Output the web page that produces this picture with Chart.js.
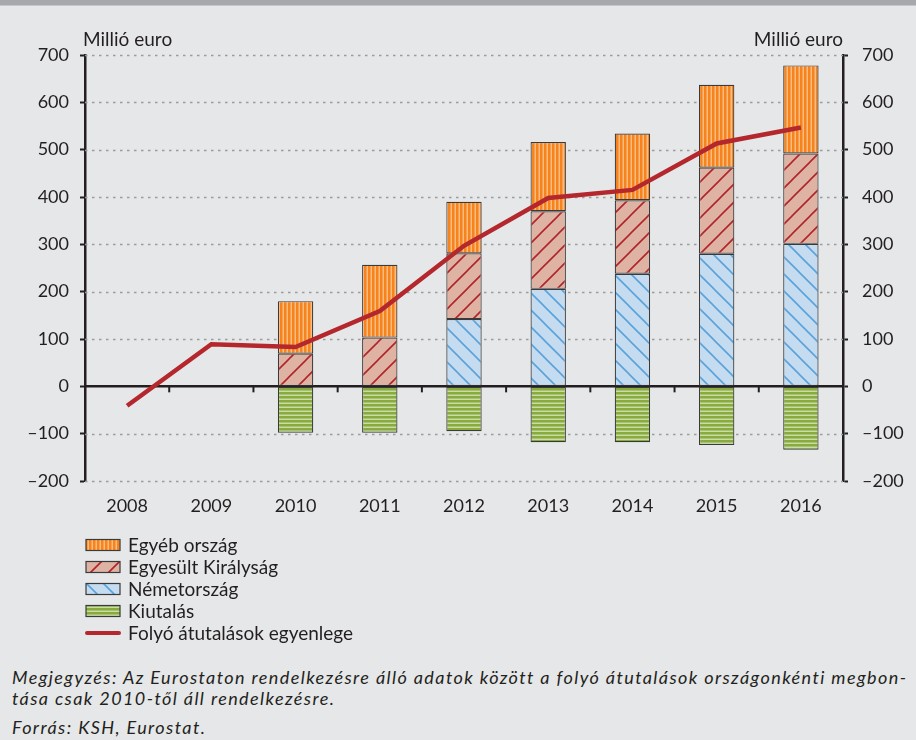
<!DOCTYPE html>
<html>
<head>
<meta charset="utf-8">
<script src="https://cdn.jsdelivr.net/npm/chart.js@4"></script>
<style>
  body { margin: 0; width: 916px; height: 740px; background: #e6e7e8; overflow: hidden; position: relative; font-family: Lato, sans-serif; color: #231f20; }
  #topbar { position: absolute; left: 0; top: 0; width: 916px; height: 5px; background: #a7a8ab; border-bottom: 1px solid #c6c7c9; }
  #wrap { position: absolute; left: 0; top: 0; width: 916px; height: 522px; }
  .unit { position: absolute; top: 28px; font-size: 19px; line-height: 22px; }
  #legend { position: absolute; left: 85px; top: 534px; font-size: 19px; }
  .row { height: 22px; line-height: 22px; display: flex; align-items: center; }
  .row canvas { margin-right: 7px; }
  .note { position: absolute; left: 12px; font-style: italic; font-size: 18px; line-height: 20px; letter-spacing: 1.4px; white-space: nowrap; color: #231f20; }
</style>
</head>
<body>
<div id="topbar"></div>
<div id="wrap"><canvas id="chart"></canvas></div>
<div class="unit" style="left:83px">Millió euro</div>
<div class="unit" style="right:73px">Millió euro</div>
<div id="legend"></div>
<div class="note" style="top:667px">Megjegyzés: Az Eurostaton rendelkezésre álló adatok között a folyó átutalások országonkénti megbon-</div>
<div class="note" style="top:688px">tása csak 2010-től áll rendelkezésre.</div>
<div class="note" style="top:717px">Forrás: KSH, Eurostat.</div>
<script>
// adatok (millió euro)
const years = ['2008', '2009', '2010', '2011', '2012', '2013', '2014', '2015', '2016'];
const nemetorszag = [null, null, 0, 0, 142, 206, 238, 280, 301];
const egyesultKiralysag = [null, null, 69, 103, 139, 164, 155, 182, 191];
const egyebOrszag = [null, null, 111, 154, 109, 146, 141, 175, 186];
const kiutalas = [null, null, -98, -98, -95, -118, -118, -124, -134];
const folyoEgyenleg = [-41, 89, 83, 159, 297, 398, 415, 513, 547];
const Y_MIN = -200, Y_MAX = 700, Y_STEP = 100;

const INK = '#231f20';
const LINE_RED = '#b3272d';
const BAR_EDGE = '#3a3a3a';

function makePattern(w, h, draw) {
  const c = document.createElement('canvas');
  c.width = w; c.height = h;
  const g = c.getContext('2d');
  draw(g, w, h);
  return g.createPattern(c, 'repeat');
}

const orangeFill = makePattern(4, 4, (g, w, h) => {
  g.fillStyle = '#fdbb7e'; g.fillRect(0, 0, w, h);
  g.fillStyle = '#f5841f'; g.fillRect(0, 0, 2.5, h);
});
const greenFill = makePattern(4, 4, (g, w, h) => {
  g.fillStyle = '#c9dca3'; g.fillRect(0, 0, w, h);
  g.fillStyle = '#88aa3f'; g.fillRect(0, 0, w, 2.5);
});
const pinkFill = makePattern(18, 18, (g, w, h) => {
  g.fillStyle = '#dfb3a3'; g.fillRect(0, 0, w, h);
  g.strokeStyle = '#b0252b'; g.lineWidth = 1.6;
  g.beginPath();
  g.moveTo(0, h); g.lineTo(w, 0);
  g.moveTo(-2, 2); g.lineTo(2, -2);
  g.moveTo(w - 2, h + 2); g.lineTo(w + 2, h - 2);
  g.stroke();
});
const blueFill = makePattern(17, 17, (g, w, h) => {
  g.fillStyle = '#c5dbf0'; g.fillRect(0, 0, w, h);
  g.strokeStyle = '#5aa3da'; g.lineWidth = 1.6;
  g.beginPath();
  g.moveTo(0, 0); g.lineTo(w, h);
  g.moveTo(-2, h - 2); g.lineTo(2, h + 2);
  g.moveTo(w - 2, -2); g.lineTo(w + 2, 2);
  g.stroke();
});

function fmt(v) {
  return v < 0 ? '\u2013' + Math.abs(v) : String(v);
}

// pontozott rácsvonalak + nullvonal a kategória-jelölőkkel
const gridPlugin = {
  id: 'grid',
  beforeDatasetsDraw(chart) {
    const { ctx, chartArea: a, scales: { x, y } } = chart;
    ctx.save();
    ctx.strokeStyle = '#9b9b9b';
    ctx.lineWidth = 1.5;
    ctx.setLineDash([2.5, 4.5]);
    y.ticks.forEach(t => {
      if (t.value === 0) return;
      const py = Math.round(y.getPixelForValue(t.value)) + 0.5;
      ctx.beginPath(); ctx.moveTo(a.left, py); ctx.lineTo(a.right, py); ctx.stroke();
    });
    ctx.setLineDash([]);
    const y0 = y.getPixelForValue(0);
    ctx.strokeStyle = INK;
    ctx.lineWidth = 2.5;
    ctx.beginPath(); ctx.moveTo(a.left, y0); ctx.lineTo(a.right, y0); ctx.stroke();
    const half = (x.getPixelForValue(1) - x.getPixelForValue(0)) / 2;
    ctx.lineWidth = 2;
    for (let i = 1; i < years.length; i++) {
      const px = x.getPixelForValue(i) - half;
      ctx.beginPath(); ctx.moveTo(px, y0); ctx.lineTo(px, y0 + 6); ctx.stroke();
    }
    ctx.restore();
  }
};

const barBase = { type: 'bar', stack: 'a', order: 1, borderColor: BAR_EDGE, borderWidth: 1.2, borderSkipped: false, categoryPercentage: 1, barPercentage: 0.42 };

const yAxis = (pos, width, pad) => ({
  position: pos,
  display: true,
  stacked: true,
  min: Y_MIN, max: Y_MAX,
  ticks: { stepSize: Y_STEP, padding: pad, color: INK, callback: fmt },
  grid: { drawOnChartArea: false, tickLength: 5, tickWidth: 2, tickColor: INK },
  border: { color: INK, width: 2.5 },
  afterFit(s) { s.width = width; },
});

Chart.defaults.font.family = 'Lato, sans-serif';
Chart.defaults.font.size = 18;
Chart.defaults.color = INK;

new Chart(document.getElementById('chart'), {
  data: {
    labels: years,
    datasets: [
      { ...barBase, label: 'Németország', data: nemetorszag, backgroundColor: blueFill },
      { ...barBase, label: 'Egyesült Királyság', data: egyesultKiralysag, backgroundColor: pinkFill },
      { ...barBase, label: 'Egyéb ország', data: egyebOrszag, backgroundColor: orangeFill },
      { ...barBase, label: 'Kiutalás', data: kiutalas, backgroundColor: greenFill },
      { type: 'line', stack: 'line', order: 0, label: 'Folyó átutalások egyenlege', data: folyoEgyenleg,
        borderColor: LINE_RED, borderWidth: 4.5, pointRadius: 0, tension: 0, borderJoinStyle: 'miter' },
    ],
  },
  options: {
    responsive: true, maintainAspectRatio: false, animation: false,
    layout: { padding: { top: 55, left: 0, right: 0, bottom: 0 } },
    plugins: { legend: { display: false }, tooltip: { enabled: false } },
    scales: {
      x: {
        stacked: true,
        grid: { display: false },
        border: { display: false },
        ticks: { padding: 6, color: INK },
        afterFit(s) { s.height = 41; },
      },
      y: yAxis('left', 85, 11),
      y2: yAxis('right', 73, 14),
    },
  },
  plugins: [gridPlugin],
});

// jelmagyarázat
const legendItems = [
  { label: 'Egyéb ország', fill: orangeFill },
  { label: 'Egyesült Királyság', fill: pinkFill },
  { label: 'Németország', fill: blueFill },
  { label: 'Kiutalás', fill: greenFill },
  { label: 'Folyó átutalások egyenlege', line: LINE_RED },
];
const legend = document.getElementById('legend');
legendItems.forEach(it => {
  const row = document.createElement('div');
  row.className = 'row';
  const c = document.createElement('canvas');
  c.width = 36; c.height = 14;
  const g = c.getContext('2d');
  if (it.line) {
    g.strokeStyle = it.line; g.lineWidth = 4; g.lineCap = 'round';
    g.beginPath(); g.moveTo(2, 7); g.lineTo(34, 7); g.stroke();
  } else {
    g.fillStyle = it.fill; g.fillRect(1, 1.5, 34, 11);
    g.strokeStyle = BAR_EDGE; g.lineWidth = 1.2; g.strokeRect(1, 1.5, 34, 11);
  }
  const span = document.createElement('span');
  span.textContent = it.label;
  row.appendChild(c);
  row.appendChild(span);
  legend.appendChild(row);
});
</script>
</body>
</html>
